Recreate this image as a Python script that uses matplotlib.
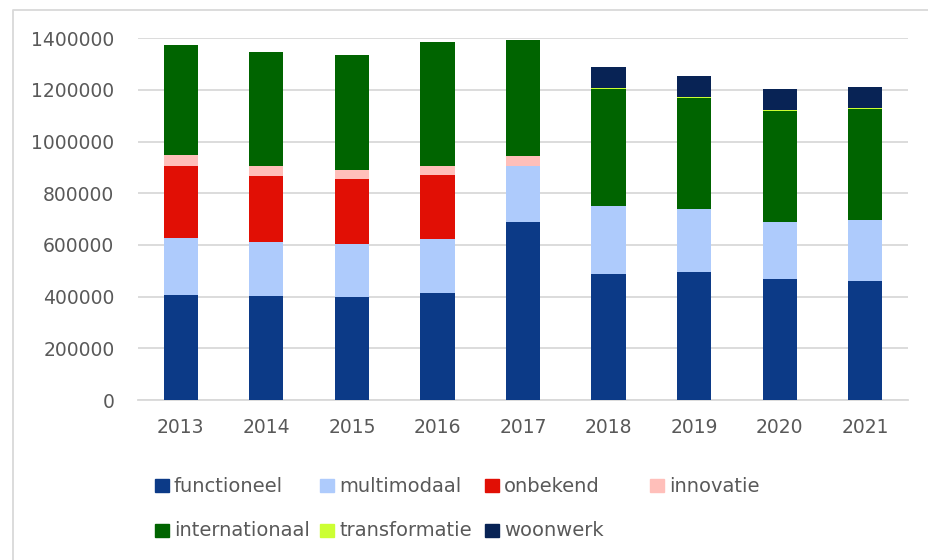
import matplotlib
matplotlib.use('Agg')
import matplotlib.pyplot as plt
from matplotlib.patches import Rectangle
import numpy as np

years = ['2013', '2014', '2015', '2016', '2017', '2018', '2019', '2020', '2021']

functioneel    = [406000, 401000, 397000, 415000, 688000, 487000, 494000, 470000, 461000]
multimodaal    = [221000, 211000, 206000, 209000, 219000, 264000, 244000, 220000, 237000]
onbekend       = [277000, 256000, 254000, 248000, 0, 0, 0, 0, 0]
innovatie      = [44000, 38000, 35000, 35000, 37000, 0, 0, 0, 0]
internationaal = [427000, 440000, 443000, 479000, 450000, 454000, 431000, 429000, 430000]
transformatie  = [0, 0, 0, 0, 0, 3000, 3000, 2000, 2000]
woonwerk       = [0, 0, 0, 0, 0, 79000, 82000, 83000, 83000]

series_names = ['functioneel', 'multimodaal', 'onbekend', 'innovatie',
                'internationaal', 'transformatie', 'woonwerk']
series_vals = [functioneel, multimodaal, onbekend, innovatie,
               internationaal, transformatie, woonwerk]
colors = ['#0c3a87', '#aecbfc', '#e10f05', '#ffbfba',
          '#006400', '#ccff33', '#082355']

plt.rcParams['font.family'] = ['DejaVu Sans']
txt_col = '#595959'
grid_col = '#d9d9d9'

fig = plt.figure(figsize=(9.29, 5.6), dpi=100)
ax = fig.add_axes([138/929, 1 - 400/560, (908-138)/929, (400-38.3)/560])

x = np.arange(len(years))
bottom = np.zeros(len(years))
for name, vals, c in zip(series_names, series_vals, colors):
    vals = np.array(vals, dtype=float)
    ax.bar(x, vals, 0.4, bottom=bottom, color=c, label=name, zorder=3)
    bottom += vals

ax.set_xlim(-0.5, len(years) - 0.5)
ax.set_ylim(0, 1400000)
ax.set_yticks(np.arange(0, 1400001, 200000))
ax.set_yticklabels([str(v) for v in range(0, 1400001, 200000)])
ax.set_xticks(x)
ax.set_xticklabels(years)
ax.tick_params(axis='both', length=0, labelsize=13.5, labelcolor=txt_col)
ax.tick_params(axis='y', pad=17)
ax.tick_params(axis='x', pad=13)
ax.yaxis.grid(True, color=grid_col, linewidth=1.3, zorder=0)
for s in ['top', 'right', 'left']:
    ax.spines[s].set_visible(False)
ax.spines['bottom'].set_color(grid_col)
ax.spines['bottom'].set_linewidth(1.3)

# legend drawn as in the Excel layout: 4 evenly spaced columns
for i, (name, c) in enumerate(zip(series_names, colors)):
    col, row = i % 4, i // 4
    lx = 155 + col * 165
    ly = 485.5 + row * 44.5
    fig.patches.append(Rectangle((lx/929, 1 - (ly+6.5)/560), 14/929, 13/560,
                                 transform=fig.transFigure, color=c))
    fig.text((lx+19)/929, 1 - (ly+1)/560, name, fontsize=14, color=txt_col,
             va='center', ha='left')

# chart border (only left and top edges fall inside the picture)
fig.lines.append(plt.Line2D([13/929, 13/929, 1.0], [0, 1 - 10/560, 1 - 10/560],
                            transform=fig.transFigure, color=grid_col,
                            linewidth=1.3))

fig.savefig('out.png', dpi=100)
